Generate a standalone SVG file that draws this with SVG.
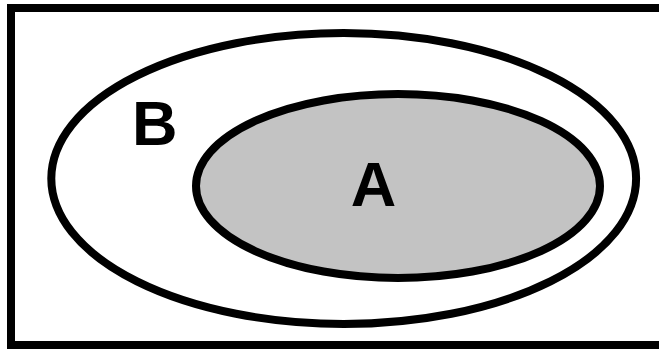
<svg xmlns="http://www.w3.org/2000/svg" width="659" height="349" viewBox="0 0 659 349">
<style>
.frame{fill:#ffffff;stroke:#000000;stroke-width:8}
.set{stroke:#000000;stroke-width:8}
.lbl{font-family:"Liberation Sans",Arial,sans-serif;font-weight:bold;font-size:63px;fill:#000000}
</style>
<rect width="659" height="349" fill="#ffffff"/>
<rect class="frame" x="11" y="8" width="670" height="337"/>
<g id="B">
<ellipse class="set" cx="343.7" cy="178.5" rx="292.4" ry="145.5" fill="#ffffff"/>
<text class="lbl" x="132" y="145">B</text>
</g>
<g id="A">
<ellipse class="set" cx="398" cy="186" rx="202" ry="92" fill="#c3c3c3"/>
<text class="lbl" x="373.5" y="206" text-anchor="middle">A</text>
</g>
<g id="connectors"/>
</svg>
